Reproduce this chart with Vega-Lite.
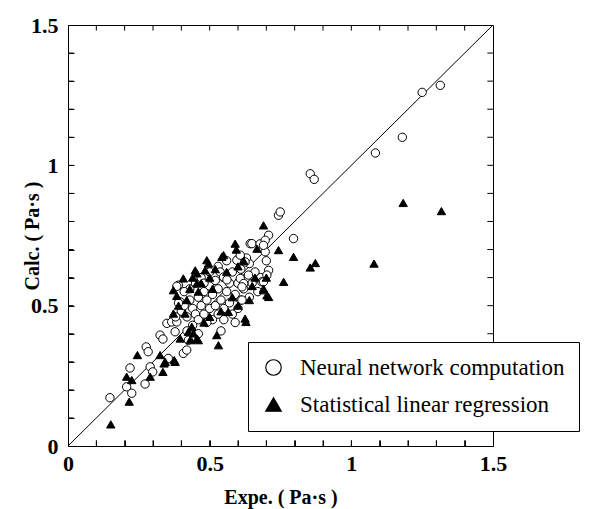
{
  "$schema": "https://vega.github.io/schema/vega-lite/v6.json",
  "width": 425,
  "height": 421,
  "autosize": {"type": "none"},
  "padding": {"left": 68, "top": 25, "right": 110, "bottom": 63},
  "background": "white",
  "config": {
    "view": {"stroke": "black", "strokeWidth": 1}
  },
  "datasets": {
    "diag": [{"x": 0, "y": 0}, {"x": 1.5, "y": 1.5}],
    "ticks": [{"t": 0.1}, {"t": 0.2}, {"t": 0.3}, {"t": 0.4}, {"t": 0.5}, {"t": 0.6}, {"t": 0.7}, {"t": 0.8}, {"t": 0.9}, {"t": 1.0}, {"t": 1.1}, {"t": 1.2}, {"t": 1.3}, {"t": 1.4}],
    "pts": [
      {"x": 0.148, "y": 0.172, "m": "Neural network computation"},
      {"x": 0.219, "y": 0.278, "m": "Neural network computation"},
      {"x": 0.207, "y": 0.211, "m": "Neural network computation"},
      {"x": 0.225, "y": 0.188, "m": "Neural network computation"},
      {"x": 0.272, "y": 0.221, "m": "Neural network computation"},
      {"x": 0.276, "y": 0.353, "m": "Neural network computation"},
      {"x": 0.283, "y": 0.336, "m": "Neural network computation"},
      {"x": 0.29, "y": 0.282, "m": "Neural network computation"},
      {"x": 0.299, "y": 0.264, "m": "Neural network computation"},
      {"x": 0.325, "y": 0.395, "m": "Neural network computation"},
      {"x": 0.335, "y": 0.381, "m": "Neural network computation"},
      {"x": 0.354, "y": 0.312, "m": "Neural network computation"},
      {"x": 0.407, "y": 0.33, "m": "Neural network computation"},
      {"x": 0.419, "y": 0.342, "m": "Neural network computation"},
      {"x": 0.349, "y": 0.437, "m": "Neural network computation"},
      {"x": 0.366, "y": 0.442, "m": "Neural network computation"},
      {"x": 0.378, "y": 0.407, "m": "Neural network computation"},
      {"x": 0.384, "y": 0.442, "m": "Neural network computation"},
      {"x": 0.39, "y": 0.573, "m": "Neural network computation"},
      {"x": 0.396, "y": 0.514, "m": "Neural network computation"},
      {"x": 0.425, "y": 0.377, "m": "Neural network computation"},
      {"x": 0.40, "y": 0.48, "m": "Neural network computation"},
      {"x": 0.41, "y": 0.50, "m": "Neural network computation"},
      {"x": 0.42, "y": 0.46, "m": "Neural network computation"},
      {"x": 0.43, "y": 0.52, "m": "Neural network computation"},
      {"x": 0.44, "y": 0.49, "m": "Neural network computation"},
      {"x": 0.45, "y": 0.47, "m": "Neural network computation"},
      {"x": 0.46, "y": 0.53, "m": "Neural network computation"},
      {"x": 0.46, "y": 0.45, "m": "Neural network computation"},
      {"x": 0.47, "y": 0.50, "m": "Neural network computation"},
      {"x": 0.48, "y": 0.55, "m": "Neural network computation"},
      {"x": 0.48, "y": 0.47, "m": "Neural network computation"},
      {"x": 0.49, "y": 0.52, "m": "Neural network computation"},
      {"x": 0.50, "y": 0.49, "m": "Neural network computation"},
      {"x": 0.50, "y": 0.57, "m": "Neural network computation"},
      {"x": 0.51, "y": 0.45, "m": "Neural network computation"},
      {"x": 0.51, "y": 0.54, "m": "Neural network computation"},
      {"x": 0.52, "y": 0.50, "m": "Neural network computation"},
      {"x": 0.52, "y": 0.59, "m": "Neural network computation"},
      {"x": 0.53, "y": 0.47, "m": "Neural network computation"},
      {"x": 0.53, "y": 0.56, "m": "Neural network computation"},
      {"x": 0.54, "y": 0.52, "m": "Neural network computation"},
      {"x": 0.55, "y": 0.49, "m": "Neural network computation"},
      {"x": 0.55, "y": 0.60, "m": "Neural network computation"},
      {"x": 0.56, "y": 0.55, "m": "Neural network computation"},
      {"x": 0.57, "y": 0.51, "m": "Neural network computation"},
      {"x": 0.57, "y": 0.58, "m": "Neural network computation"},
      {"x": 0.58, "y": 0.62, "m": "Neural network computation"},
      {"x": 0.58, "y": 0.47, "m": "Neural network computation"},
      {"x": 0.59, "y": 0.54, "m": "Neural network computation"},
      {"x": 0.60, "y": 0.58, "m": "Neural network computation"},
      {"x": 0.61, "y": 0.52, "m": "Neural network computation"},
      {"x": 0.61, "y": 0.63, "m": "Neural network computation"},
      {"x": 0.62, "y": 0.56, "m": "Neural network computation"},
      {"x": 0.63, "y": 0.60, "m": "Neural network computation"},
      {"x": 0.64, "y": 0.53, "m": "Neural network computation"},
      {"x": 0.64, "y": 0.65, "m": "Neural network computation"},
      {"x": 0.65, "y": 0.58, "m": "Neural network computation"},
      {"x": 0.66, "y": 0.62, "m": "Neural network computation"},
      {"x": 0.67, "y": 0.55, "m": "Neural network computation"},
      {"x": 0.68, "y": 0.60, "m": "Neural network computation"},
      {"x": 0.70, "y": 0.66, "m": "Neural network computation"},
      {"x": 0.43, "y": 0.56, "m": "Neural network computation"},
      {"x": 0.45, "y": 0.58, "m": "Neural network computation"},
      {"x": 0.47, "y": 0.60, "m": "Neural network computation"},
      {"x": 0.44, "y": 0.43, "m": "Neural network computation"},
      {"x": 0.49, "y": 0.44, "m": "Neural network computation"},
      {"x": 0.42, "y": 0.41, "m": "Neural network computation"},
      {"x": 0.55, "y": 0.45, "m": "Neural network computation"},
      {"x": 0.60, "y": 0.49, "m": "Neural network computation"},
      {"x": 0.38, "y": 0.46, "m": "Neural network computation"},
      {"x": 0.39, "y": 0.51, "m": "Neural network computation"},
      {"x": 0.41, "y": 0.55, "m": "Neural network computation"},
      {"x": 0.50, "y": 0.62, "m": "Neural network computation"},
      {"x": 0.53, "y": 0.64, "m": "Neural network computation"},
      {"x": 0.56, "y": 0.66, "m": "Neural network computation"},
      {"x": 0.48, "y": 0.58, "m": "Neural network computation"},
      {"x": 0.54, "y": 0.41, "m": "Neural network computation"},
      {"x": 0.46, "y": 0.40, "m": "Neural network computation"},
      {"x": 0.63, "y": 0.67, "m": "Neural network computation"},
      {"x": 0.59, "y": 0.44, "m": "Neural network computation"},
      {"x": 0.537, "y": 0.62, "m": "Neural network computation"},
      {"x": 0.549, "y": 0.602, "m": "Neural network computation"},
      {"x": 0.561, "y": 0.592, "m": "Neural network computation"},
      {"x": 0.608, "y": 0.597, "m": "Neural network computation"},
      {"x": 0.62, "y": 0.579, "m": "Neural network computation"},
      {"x": 0.384, "y": 0.569, "m": "Neural network computation"},
      {"x": 0.608, "y": 0.674, "m": "Neural network computation"},
      {"x": 0.596, "y": 0.662, "m": "Neural network computation"},
      {"x": 0.608, "y": 0.68, "m": "Neural network computation"},
      {"x": 0.625, "y": 0.656, "m": "Neural network computation"},
      {"x": 0.643, "y": 0.721, "m": "Neural network computation"},
      {"x": 0.649, "y": 0.721, "m": "Neural network computation"},
      {"x": 0.678, "y": 0.72, "m": "Neural network computation"},
      {"x": 0.696, "y": 0.692, "m": "Neural network computation"},
      {"x": 0.708, "y": 0.626, "m": "Neural network computation"},
      {"x": 0.702, "y": 0.609, "m": "Neural network computation"},
      {"x": 0.684, "y": 0.585, "m": "Neural network computation"},
      {"x": 0.69, "y": 0.585, "m": "Neural network computation"},
      {"x": 0.614, "y": 0.567, "m": "Neural network computation"},
      {"x": 0.614, "y": 0.52, "m": "Neural network computation"},
      {"x": 0.637, "y": 0.609, "m": "Neural network computation"},
      {"x": 0.708, "y": 0.751, "m": "Neural network computation"},
      {"x": 0.696, "y": 0.733, "m": "Neural network computation"},
      {"x": 0.69, "y": 0.715, "m": "Neural network computation"},
      {"x": 0.796, "y": 0.739, "m": "Neural network computation"},
      {"x": 0.743, "y": 0.822, "m": "Neural network computation"},
      {"x": 0.749, "y": 0.834, "m": "Neural network computation"},
      {"x": 0.855, "y": 0.97, "m": "Neural network computation"},
      {"x": 0.869, "y": 0.95, "m": "Neural network computation"},
      {"x": 1.085, "y": 1.044, "m": "Neural network computation"},
      {"x": 1.18, "y": 1.10, "m": "Neural network computation"},
      {"x": 1.25, "y": 1.26, "m": "Neural network computation"},
      {"x": 1.314, "y": 1.285, "m": "Neural network computation"},
      {"x": 0.151, "y": 0.077, "m": "Statistical linear regression"},
      {"x": 0.216, "y": 0.158, "m": "Statistical linear regression"},
      {"x": 0.207, "y": 0.247, "m": "Statistical linear regression"},
      {"x": 0.225, "y": 0.235, "m": "Statistical linear regression"},
      {"x": 0.245, "y": 0.324, "m": "Statistical linear regression"},
      {"x": 0.29, "y": 0.247, "m": "Statistical linear regression"},
      {"x": 0.325, "y": 0.324, "m": "Statistical linear regression"},
      {"x": 0.335, "y": 0.264, "m": "Statistical linear regression"},
      {"x": 0.339, "y": 0.294, "m": "Statistical linear regression"},
      {"x": 0.343, "y": 0.30, "m": "Statistical linear regression"},
      {"x": 0.375, "y": 0.306, "m": "Statistical linear regression"},
      {"x": 0.378, "y": 0.30, "m": "Statistical linear regression"},
      {"x": 0.396, "y": 0.383, "m": "Statistical linear regression"},
      {"x": 0.425, "y": 0.407, "m": "Statistical linear regression"},
      {"x": 0.431, "y": 0.377, "m": "Statistical linear regression"},
      {"x": 0.437, "y": 0.425, "m": "Statistical linear regression"},
      {"x": 0.443, "y": 0.401, "m": "Statistical linear regression"},
      {"x": 0.455, "y": 0.383, "m": "Statistical linear regression"},
      {"x": 0.46, "y": 0.377, "m": "Statistical linear regression"},
      {"x": 0.525, "y": 0.395, "m": "Statistical linear regression"},
      {"x": 0.531, "y": 0.359, "m": "Statistical linear regression"},
      {"x": 0.372, "y": 0.472, "m": "Statistical linear regression"},
      {"x": 0.566, "y": 0.478, "m": "Statistical linear regression"},
      {"x": 0.625, "y": 0.454, "m": "Statistical linear regression"},
      {"x": 0.628, "y": 0.442, "m": "Statistical linear regression"},
      {"x": 0.372, "y": 0.555, "m": "Statistical linear regression"},
      {"x": 0.384, "y": 0.535, "m": "Statistical linear regression"},
      {"x": 0.39, "y": 0.50, "m": "Statistical linear regression"},
      {"x": 0.407, "y": 0.597, "m": "Statistical linear regression"},
      {"x": 0.413, "y": 0.472, "m": "Statistical linear regression"},
      {"x": 0.419, "y": 0.52, "m": "Statistical linear regression"},
      {"x": 0.43, "y": 0.56, "m": "Statistical linear regression"},
      {"x": 0.44, "y": 0.60, "m": "Statistical linear regression"},
      {"x": 0.449, "y": 0.626, "m": "Statistical linear regression"},
      {"x": 0.455, "y": 0.615, "m": "Statistical linear regression"},
      {"x": 0.455, "y": 0.579, "m": "Statistical linear regression"},
      {"x": 0.46, "y": 0.55, "m": "Statistical linear regression"},
      {"x": 0.47, "y": 0.58, "m": "Statistical linear regression"},
      {"x": 0.484, "y": 0.626, "m": "Statistical linear regression"},
      {"x": 0.49, "y": 0.662, "m": "Statistical linear regression"},
      {"x": 0.496, "y": 0.65, "m": "Statistical linear regression"},
      {"x": 0.50, "y": 0.60, "m": "Statistical linear regression"},
      {"x": 0.51, "y": 0.56, "m": "Statistical linear regression"},
      {"x": 0.52, "y": 0.63, "m": "Statistical linear regression"},
      {"x": 0.543, "y": 0.674, "m": "Statistical linear regression"},
      {"x": 0.549, "y": 0.68, "m": "Statistical linear regression"},
      {"x": 0.56, "y": 0.62, "m": "Statistical linear regression"},
      {"x": 0.59, "y": 0.721, "m": "Statistical linear regression"},
      {"x": 0.594, "y": 0.70, "m": "Statistical linear regression"},
      {"x": 0.60, "y": 0.64, "m": "Statistical linear regression"},
      {"x": 0.62, "y": 0.66, "m": "Statistical linear regression"},
      {"x": 0.667, "y": 0.703, "m": "Statistical linear regression"},
      {"x": 0.69, "y": 0.786, "m": "Statistical linear regression"},
      {"x": 0.743, "y": 0.698, "m": "Statistical linear regression"},
      {"x": 0.796, "y": 0.674, "m": "Statistical linear regression"},
      {"x": 0.855, "y": 0.636, "m": "Statistical linear regression"},
      {"x": 0.873, "y": 0.652, "m": "Statistical linear regression"},
      {"x": 0.69, "y": 0.555, "m": "Statistical linear regression"},
      {"x": 0.708, "y": 0.531, "m": "Statistical linear regression"},
      {"x": 0.702, "y": 0.537, "m": "Statistical linear regression"},
      {"x": 0.69, "y": 0.561, "m": "Statistical linear regression"},
      {"x": 0.761, "y": 0.585, "m": "Statistical linear regression"},
      {"x": 0.70, "y": 0.60, "m": "Statistical linear regression"},
      {"x": 0.64, "y": 0.52, "m": "Statistical linear regression"},
      {"x": 0.60, "y": 0.50, "m": "Statistical linear regression"},
      {"x": 0.58, "y": 0.53, "m": "Statistical linear regression"},
      {"x": 0.50, "y": 0.46, "m": "Statistical linear regression"},
      {"x": 0.48, "y": 0.44, "m": "Statistical linear regression"},
      {"x": 0.54, "y": 0.48, "m": "Statistical linear regression"},
      {"x": 0.65, "y": 0.57, "m": "Statistical linear regression"},
      {"x": 0.66, "y": 0.60, "m": "Statistical linear regression"},
      {"x": 1.08, "y": 0.65, "m": "Statistical linear regression"},
      {"x": 1.183, "y": 0.866, "m": "Statistical linear regression"},
      {"x": 1.318, "y": 0.837, "m": "Statistical linear regression"}
    ]
  },
  "layer": [
    {
      "data": {"name": "diag"},
      "mark": {"type": "line", "color": "black", "strokeWidth": 1},
      "encoding": {
        "x": {"field": "x", "type": "quantitative", "scale": {"domain": [0, 1.5], "nice": false},
          "axis": {"orient": "bottom", "title": "Expe.  ( Pa·s )", "titlePadding": 13, "offset": -6, "domain": false, "zindex": 2,
            "titleFont": "Liberation Serif", "titleFontWeight": 700, "titleFontSize": 20, "titleColor": "black",
            "labelFont": "Liberation Serif", "labelFontWeight": 700, "labelFontSize": 22, "labelColor": "black",
            "tickColor": "black", "grid": false,
            "ticks": true, "tickSize": 6, "tickWidth": 1, "labelPadding": 7,
            "values": [0, 0.1, 0.2, 0.3, 0.4, 0.5, 0.6, 0.7, 0.8, 0.9, 1, 1.1, 1.2, 1.3, 1.4, 1.5],
            "labelExpr": "datum.value === 0 ? '0' : datum.value === 0.5 ? '0.5' : datum.value === 1 ? '1' : datum.value === 1.5 ? '1.5' : ''",
            "labelFlush": false}},
        "y": {"field": "y", "type": "quantitative", "scale": {"domain": [0, 1.5], "nice": false},
          "axis": {"orient": "left", "title": "Calc.  ( Pa·s )", "titlePadding": 4, "offset": -6, "domain": false, "zindex": 2,
            "titleX": -32,
            "titleFont": "Liberation Serif", "titleFontWeight": 700, "titleFontSize": 20, "titleColor": "black",
            "labelFont": "Liberation Serif", "labelFontWeight": 700, "labelFontSize": 22, "labelColor": "black",
            "tickColor": "black", "grid": false,
            "ticks": true, "tickSize": 6, "tickWidth": 1, "labelPadding": 10,
            "values": [0, 0.1, 0.2, 0.3, 0.4, 0.5, 0.6, 0.7, 0.8, 0.9, 1, 1.1, 1.2, 1.3, 1.4, 1.5],
            "labelExpr": "datum.value === 0 ? '0' : datum.value === 0.5 ? '0.5' : datum.value === 1 ? '1' : datum.value === 1.5 ? '1.5' : ''",
            "labelFlush": false}}
      }
    },
    {
      "data": {"name": "ticks"},
      "mark": {"type": "rule", "color": "black", "strokeWidth": 1},
      "encoding": {
        "x": {"field": "t", "type": "quantitative", "axis": null},
        "y": {"datum": 0, "type": "quantitative", "axis": null},
        "y2": {"datum": 0.02}
      }
    },
    {
      "data": {"name": "ticks"},
      "mark": {"type": "rule", "color": "black", "strokeWidth": 1},
      "encoding": {
        "x": {"field": "t", "type": "quantitative", "axis": null},
        "y": {"datum": 1.5, "type": "quantitative", "axis": null},
        "y2": {"datum": 1.48}
      }
    },
    {
      "data": {"name": "ticks"},
      "mark": {"type": "rule", "color": "black", "strokeWidth": 1},
      "encoding": {
        "y": {"field": "t", "type": "quantitative", "axis": null},
        "x": {"datum": 0, "type": "quantitative", "axis": null},
        "x2": {"datum": 0.02}
      }
    },
    {
      "data": {"name": "ticks"},
      "mark": {"type": "rule", "color": "black", "strokeWidth": 1},
      "encoding": {
        "y": {"field": "t", "type": "quantitative", "axis": null},
        "x": {"datum": 1.5, "type": "quantitative", "axis": null},
        "x2": {"datum": 1.48}
      }
    },
    {
      "data": {"name": "pts"},
      "mark": {"type": "point", "filled": false, "strokeWidth": 1, "opacity": 1, "size": 70},
      "encoding": {
        "x": {"field": "x", "type": "quantitative", "axis": null},
        "y": {"field": "y", "type": "quantitative", "axis": null},
        "shape": {"field": "m", "type": "nominal",
          "scale": {"domain": ["Neural network computation", "Statistical linear regression"], "range": ["circle", "triangle-up"]},
          "legend": {"title": null, "orient": "none", "legendX": 180, "legendY": 317, "zindex": 3,
            "strokeColor": "black", "fillColor": "white", "padding": 14,
            "labelFont": "Liberation Serif", "labelFontSize": 23, "labelFontWeight": "normal", "labelColor": "black",
            "symbolSize": 240, "symbolStrokeWidth": 1.2, "rowPadding": 13, "labelOffset": 15, "labelLimit": 500,
            "labelExpr": "datum.label + '\u00a0\u00a0\u00a0\u00a0\u00a0'"}},
        "fill": {"field": "m", "type": "nominal",
          "scale": {"domain": ["Neural network computation", "Statistical linear regression"], "range": ["white", "black"]},
          "legend": {"title": null, "orient": "none", "legendX": 180, "legendY": 317, "zindex": 3,
            "strokeColor": "black", "fillColor": "white", "padding": 14,
            "labelFont": "Liberation Serif", "labelFontSize": 23, "labelFontWeight": "normal", "labelColor": "black",
            "symbolSize": 240, "symbolStrokeWidth": 1.2, "rowPadding": 13, "labelOffset": 15, "labelLimit": 500,
            "labelExpr": "datum.label + '\u00a0\u00a0\u00a0\u00a0\u00a0'"}},
        "stroke": {"field": "m", "type": "nominal",
          "scale": {"domain": ["Neural network computation", "Statistical linear regression"], "range": ["black", "black"]},
          "legend": {"title": null, "orient": "none", "legendX": 180, "legendY": 317, "zindex": 3,
            "strokeColor": "black", "fillColor": "white", "padding": 14,
            "labelFont": "Liberation Serif", "labelFontSize": 23, "labelFontWeight": "normal", "labelColor": "black",
            "symbolSize": 240, "symbolStrokeWidth": 1.2, "rowPadding": 13, "labelOffset": 15, "labelLimit": 500,
            "labelExpr": "datum.label + '\u00a0\u00a0\u00a0\u00a0\u00a0'"}}
      }
    }
  ],
  "resolve": {"axis": {"x": "independent", "y": "independent"}}
}
